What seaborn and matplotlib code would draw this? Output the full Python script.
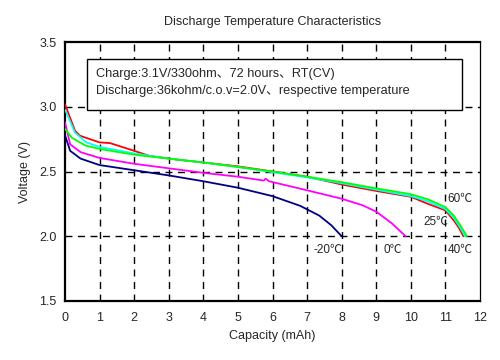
import numpy as np
import pandas as pd
import matplotlib
matplotlib.use('Agg')
import matplotlib.pyplot as plt
from matplotlib.patches import Rectangle
import seaborn as sns

# Datos
cap_m20 = [0, 0.15, 0.45, 1, 2, 3, 4, 5, 6, 6.8, 7.35, 7.7, 8.0]
volt_m20 = [2.78, 2.66, 2.60, 2.55, 2.51, 2.47, 2.425, 2.375, 2.31, 2.235, 2.16, 2.085, 2.0]

cap_0 = [0, 0.15, 0.45, 1, 2, 3, 4, 5, 5.75, 5.8, 5.9, 7, 8, 8.6, 9, 9.45, 9.85]
volt_0 = [2.88, 2.71, 2.65, 2.605, 2.56, 2.525, 2.49, 2.46, 2.43, 2.445, 2.425, 2.355, 2.29, 2.24, 2.19, 2.10, 2.0]

cap_25 = [0, 0.14, 0.29, 0.43, 1, 1.3, 2, 2.45, 3.3, 4, 5, 6, 7, 8, 9, 10, 10.5, 11, 11.25, 11.4, 11.52]
volt_25 = [3.02, 2.92, 2.815, 2.777, 2.725, 2.72, 2.66, 2.62, 2.59, 2.57, 2.54, 2.50, 2.46, 2.40, 2.35, 2.305, 2.25, 2.20, 2.12, 2.06, 2.0]

cap_40 = [0, 0.29, 0.62, 1, 2, 3, 4, 5, 6, 7, 8, 9, 10, 10.5, 11, 11.25, 11.42, 11.57]
volt_40 = [2.98, 2.80, 2.725, 2.69, 2.64, 2.60, 2.57, 2.535, 2.495, 2.455, 2.41, 2.36, 2.31, 2.27, 2.21, 2.14, 2.07, 2.0]

cap_60 = [0, 0.2, 0.6, 1, 2, 3, 4, 5, 6, 7, 8, 9, 10, 10.5, 11, 11.24, 11.43, 11.62]
volt_60 = [2.83, 2.76, 2.70, 2.675, 2.63, 2.60, 2.57, 2.535, 2.50, 2.46, 2.418, 2.37, 2.325, 2.285, 2.225, 2.16, 2.085, 2.0]

temps = ['-20℃', '0℃', '25℃', '40℃', '60℃']
colores = ['#000080', '#FF00FF', '#FF0000', '#00FFFF', '#00FF00']

xticks = list(range(0, 13))
yticks = [1.5, 2.0, 2.5, 3.0, 3.5]

# armando el df largo
series = [(cap_m20, volt_m20), (cap_0, volt_0), (cap_25, volt_25), (cap_40, volt_40), (cap_60, volt_60)]
partes = []
for t, (c, v) in zip(temps, series):
    partes.append(pd.DataFrame({'cap': c, 'volt': v, 'temp': t}))
df = pd.concat(partes, ignore_index=True)

sns.set_style('white')
plt.rcParams['font.family'] = ['Liberation Sans', 'Noto Sans CJK JP', 'DejaVu Sans']

fig = plt.figure(figsize=(5, 3.6), dpi=100)
ax = fig.add_axes([0.13, 0.164, 0.83, 0.719])

# grilla punteada
for x in xticks[1:-1]:
    ax.axvline(x, color='black', linestyle=(0, (5, 4)), linewidth=1.0, zorder=1)
for y in [2.0, 2.5, 3.0]:
    ax.axhline(y, color='black', linestyle=(0, (5, 4)), linewidth=1.0, zorder=1)

sns.lineplot(data=df, x='cap', y='volt', hue='temp', hue_order=temps,
             palette=colores, sort=False, estimator=None, units='temp',
             legend=False, linewidth=1.3, ax=ax, zorder=3)

ax.set_xlim(0, 12)
ax.set_ylim(1.5, 3.5)
ax.set_xticks(xticks)
ax.set_yticks(yticks)
ax.set_yticklabels(['%.1f' % y for y in yticks])
ax.tick_params(axis='x', direction='in', length=4, width=1, labelsize=9, pad=8)
ax.tick_params(axis='y', length=0, labelsize=9, pad=6)
ax.set_xlabel('Capacity (mAh)', fontsize=9, labelpad=4)
ax.set_ylabel('Voltage (V)', fontsize=9, labelpad=6)
ax.set_title('Discharge Temperature Characteristics', fontsize=9, pad=12)

for lado in ['left', 'bottom', 'top']:
    ax.spines[lado].set_linewidth(1.6)
    ax.spines[lado].set_color('black')
ax.spines['right'].set_linewidth(0.9)
ax.spines['right'].set_color('black')

# caja de condiciones
ax.add_patch(Rectangle((0.63, 2.977), 10.84, 0.393, facecolor='white',
                       edgecolor='black', linewidth=1.0, zorder=4))
ax.text(0.9, 3.255, 'Charge:3.1V/330ohm、72 hours、RT(CV)', fontsize=9.2,
        va='center', ha='left', zorder=5)
ax.text(0.9, 3.12, 'Discharge:36kohm/c.o.v=2.0V、respective temperature', fontsize=9.2,
        va='center', ha='left', zorder=5)

# etiquetas de temperatura
ax.text(7.6, 1.89, '-20℃', fontsize=8.5, ha='center', va='center')
ax.text(9.48, 1.89, '0℃', fontsize=8.5, ha='center', va='center')
ax.text(11.42, 1.89, '40℃', fontsize=8.5, ha='center', va='center')
ax.text(11.42, 2.285, '60℃', fontsize=8.5, ha='center', va='center')
ax.text(10.72, 2.11, '25℃', fontsize=8.5, ha='center', va='center')

fig.savefig('out.png', dpi=100)
